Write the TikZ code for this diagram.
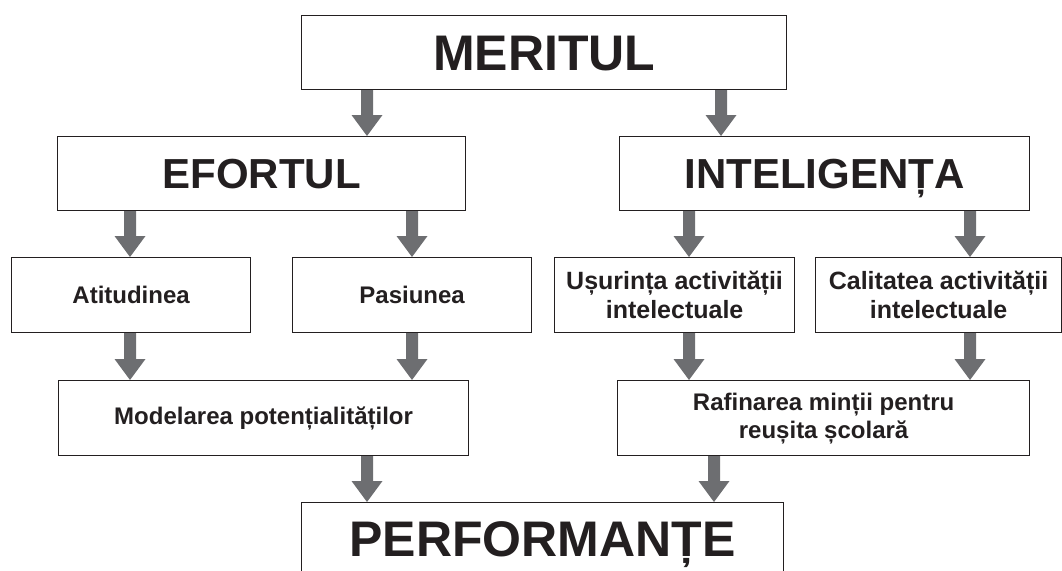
\documentclass[tikz,border=0pt]{standalone}
\usepackage{fontspec}
\setmainfont{Liberation Sans}
\usetikzlibrary{calc}
\definecolor{inkc}{HTML}{231F20}
\definecolor{arrowc}{HTML}{6D6E71}
\tikzset{
  boxn/.style={draw=inkc, line width=1.2pt, rectangle, inner sep=0pt, anchor=north west,
    align=center, text=inkc},
  bigt/.style={font=\fontsize{50}{60}\selectfont\bfseries, text height=35.8pt, text depth=0pt},
  midt/.style={font=\fontsize{42}{50}\selectfont\bfseries, text height=30.1pt, text depth=0pt},
  smallt/.style={font=\fontsize{24}{28}\selectfont\bfseries},
  smallu/.style={font=\fontsize{25}{29}\selectfont\bfseries},
  fatarrow/.style={to path={let \p1=(\tikztostart), \p2=(\tikztotarget) in
    (\x1-6pt,\y1) -- (\x1+6pt,\y1) -- (\x1+6pt,\y2+21pt) -- (\x1+15.5pt,\y2+21pt) --
    (\x1,\y2) -- (\x1-15.5pt,\y2+21pt) -- (\x1-6pt,\y2+21pt) -- cycle}},
  arr/.style={fill=arrowc}
}
\begin{document}
\begin{tikzpicture}[x=1pt,y=-1pt]
\useasboundingbox (0,0) rectangle (1062,570);
\clip (0,0) rectangle (1062,570);
% boxes
\node[boxn,bigt,minimum width=485pt,minimum height=74pt] (mer) at (301,15) {MERITUL};
\node[boxn,midt,minimum width=408pt,minimum height=74pt] (efo) at (57,136) {EFORTUL};
\node[boxn,midt,minimum width=410pt,minimum height=74pt] (int) at (619,136) {INTELIGENȚA};
\node[boxn,smallt,minimum width=239pt,minimum height=75pt] (ati) at (11,257) {Atitudinea};
\node[boxn,smallt,minimum width=239pt,minimum height=75pt] (pas) at (292,257) {Pasiunea};
\node[boxn,smallu,minimum width=240pt,minimum height=75pt] (usu) at (554,257) {Ușurința activității\\intelectuale};
\node[boxn,smallu,minimum width=246pt,minimum height=75pt] (cal) at (815,257) {Calitatea activității\\intelectuale};
\node[boxn,smallt,minimum width=410pt,minimum height=75pt] (mod) at (58,380) {Modelarea potențialităților};
\node[boxn,smallt,minimum width=412pt,minimum height=75pt] (raf) at (617,380) {Rafinarea minții pentru\\reușita școlară};
\node[boxn,bigt,minimum width=482pt,minimum height=71pt] (per) at (301,502) {PERFORMANȚE};
% arrow x positions
\coordinate (xa) at (367,0);
\coordinate (xb) at (721,0);
\coordinate (xc) at (130,0);
\coordinate (xd) at (412,0);
\coordinate (xe) at (689,0);
\coordinate (xf) at (970,0);
\coordinate (xg) at (714,0);
% arrows
\path[arr] (xa |- mer.south) to[fatarrow] (xa |- efo.north);
\path[arr] (xb |- mer.south) to[fatarrow] (xb |- int.north);
\path[arr] (xc |- efo.south) to[fatarrow] (xc |- ati.north);
\path[arr] (xd |- efo.south) to[fatarrow] (xd |- pas.north);
\path[arr] (xe |- int.south) to[fatarrow] (xe |- usu.north);
\path[arr] (xf |- int.south) to[fatarrow] (xf |- cal.north);
\path[arr] (xc |- ati.south) to[fatarrow] (xc |- mod.north);
\path[arr] (xd |- pas.south) to[fatarrow] (xd |- mod.north);
\path[arr] (xe |- usu.south) to[fatarrow] (xe |- raf.north);
\path[arr] (xf |- cal.south) to[fatarrow] (xf |- raf.north);
\path[arr] (xa |- mod.south) to[fatarrow] (xa |- per.north);
\path[arr] (xg |- raf.south) to[fatarrow] (xg |- per.north);
\end{tikzpicture}
\end{document}
